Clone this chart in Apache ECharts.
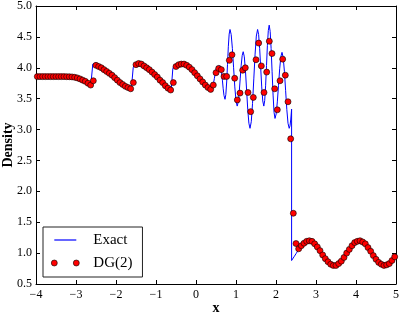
<!DOCTYPE html>
<html>
<head>
<meta charset="utf-8">
<script src="https://cdn.jsdelivr.net/npm/echarts@6/dist/echarts.min.js"></script>
<style>html,body{margin:0;padding:0;background:#fff}#c{width:399px;height:314px}</style>
</head>
<body>
<div id="c"></div>
<script>
// Tick labels
const xTicks = [-4, -3, -2, -1, 0, 1, 2, 3, 4, 5];
const yTicks = [0.5, 1.0, 1.5, 2.0, 2.5, 3.0, 3.5, 4.0, 4.5, 5.0];

// Exact (reference) solution
const exactX = [-4.00,-3.30,-3.15,-3.05,-2.95,-2.85,-2.75,-2.68,-2.63,-2.60,-2.58,-2.58,-2.56,-2.50,-2.40,-2.30,-2.20,-2.10,-2.00,-1.90,-1.80,-1.70,-1.62,-1.57,-1.57,-1.54,-1.48,-1.40,-1.30,-1.20,-1.10,-1.00,-0.90,-0.80,-0.70,-0.62,-0.58,-0.58,-0.55,-0.48,-0.40,-0.30,-0.20,-0.10,0.00,0.10,0.20,0.28,0.34,0.37,
  0.40,0.43,0.46,0.49,0.52,0.55,0.60,0.64,0.66,0.68,0.70,0.725,
  0.746,0.767,0.7875,0.808,0.829,0.85,
  0.88,0.91,0.94,0.97,1.00,1.03,
  1.055,1.08,1.105,1.13,1.155,1.18,
  1.208,1.237,1.265,1.293,1.322,1.35,
  1.382,1.413,1.445,1.477,1.508,1.54,
  1.566,1.592,1.6175,1.643,1.669,1.695,
  1.7175,1.74,1.7625,1.785,1.8075,1.83,
  1.854,1.878,1.9025,1.927,1.951,1.975,
  2.004,2.033,2.0625,2.092,2.121,2.15,
  2.18,2.21,2.24,2.27,2.30,2.33,
  2.35,2.37,2.39,2.39,
  2.45,2.50,2.55,2.60,2.65,2.70,2.75,2.80,2.85,2.90,2.95,3.00,3.05,3.10,3.15,3.20,3.25,3.30,3.35,3.40,3.45,3.50,3.55,3.60,3.65,3.70,3.75,3.80,3.85,3.90,3.95,4.00,4.05,4.10,4.15,4.20,4.25,4.30,4.35,4.40,4.45,4.50,4.55,4.60,4.65,4.70,4.75,4.80,4.85,4.90,4.95,5.00];
const exactY = [3.857,3.857,3.855,3.848,3.835,3.815,3.785,3.755,3.72,3.70,3.69,4.06,4.09,4.08,4.03,3.99,3.95,3.90,3.84,3.77,3.71,3.66,3.63,3.62,4.00,4.06,4.08,4.08,4.05,4.01,3.95,3.89,3.82,3.75,3.68,3.64,3.63,3.98,4.04,4.07,4.08,4.08,4.05,3.99,3.92,3.84,3.75,3.68,3.62,3.61,
  3.64,3.72,3.83,3.94,4.02,4.05,4.03,3.92,3.80,3.66,3.55,3.49,
  3.566,3.77,4.055,4.34,4.545,4.62,
  4.537,4.31,4.00,3.69,3.463,3.38,
  3.439,3.60,3.82,4.04,4.20,4.26,
  4.177,3.95,3.64,3.33,3.103,3.02,
  3.127,3.42,3.82,4.22,4.513,4.62,
  4.537,4.31,4.00,3.69,3.463,3.38,
  3.468,3.708,4.035,4.363,4.602,4.69,
  4.589,4.313,3.935,3.558,3.281,3.18,
  3.252,3.448,3.715,3.983,4.178,4.25,
  4.168,3.943,3.635,3.328,3.102,3.02,
  3.06,3.17,3.33,0.88,
  0.94,0.99,1.04,1.08,1.13,1.16,1.185,1.198,1.199,1.187,1.164,1.13,1.088,1.041,0.992,0.942,0.897,0.858,0.827,0.807,0.80,0.805,0.822,0.85,0.887,0.931,0.98,1.03,1.078,1.121,1.157,1.183,1.197,1.199,1.189,1.167,1.135,1.094,1.048,0.998,0.949,0.903,0.862,0.83,0.809,0.80,0.804,0.819,0.845,0.882,0.925,0.974];

// DG(2) cell values
const dgX = [-3.967,-3.900,-3.833,-3.767,-3.700,-3.633,-3.567,-3.500,-3.433,-3.367,-3.300,-3.233,-3.167,-3.100,-3.033,-2.967,-2.900,-2.833,-2.767,-2.700,-2.633,-2.567,-2.500,-2.433,-2.367,-2.300,-2.233,-2.167,-2.100,-2.033,-1.967,-1.900,-1.833,-1.767,-1.700,-1.633,-1.567,-1.500,-1.433,-1.367,-1.300,-1.233,-1.167,-1.100,-1.033,-0.967,-0.900,-0.833,-0.767,-0.700,-0.633,-0.567,-0.500,-0.433,-0.367,-0.300,-0.233,-0.167,-0.100,-0.033,0.033,0.100,0.167,0.233,0.300,0.367,0.433,0.500,0.567,0.633,0.700,0.767,0.833,0.900,0.967,1.033,1.100,1.167,1.233,1.300,1.367,1.433,1.500,1.567,1.633,1.700,1.767,1.833,1.900,1.967,2.033,2.100,2.167,2.233,2.300,2.367,2.433,2.500,2.567,2.633,2.700,2.767,2.833,2.900,2.967,3.033,3.100,3.167,3.233,3.300,3.367,3.433,3.500,3.567,3.633,3.700,3.767,3.833,3.900,3.967,4.033,4.100,4.167,4.233,4.300,4.367,4.433,4.500,4.567,4.633,4.700,4.767,4.833,4.900,4.967];
const dgY = [3.857,3.857,3.857,3.857,3.857,3.857,3.857,3.857,3.857,3.857,3.857,3.856,3.855,3.852,3.846,3.836,3.82,3.80,3.78,3.75,3.72,3.79,4.04,4.02,4.00,3.97,3.94,3.91,3.88,3.84,3.80,3.76,3.73,3.70,3.68,3.66,3.76,4.05,4.07,4.06,4.03,4.00,3.97,3.93,3.89,3.85,3.80,3.76,3.71,3.67,3.64,3.76,4.02,4.05,4.06,4.06,4.04,4.01,3.97,3.92,3.87,3.82,3.77,3.72,3.68,3.65,3.72,3.92,3.99,3.97,3.86,3.86,4.12,4.21,3.83,3.48,3.59,3.96,4.00,3.60,3.29,3.52,4.13,4.40,4.03,3.60,3.93,4.43,4.23,3.66,3.32,3.79,4.14,3.88,3.45,2.85,1.645,1.155,1.07,1.12,1.16,1.19,1.20,1.19,1.15,1.10,1.04,0.97,0.91,0.86,0.82,0.80,0.80,0.83,0.87,0.93,1.00,1.06,1.12,1.17,1.19,1.20,1.18,1.15,1.09,1.03,0.96,0.90,0.85,0.82,0.80,0.81,0.83,0.88,0.94];

const FONT = '"Liberation Serif", "DejaVu Serif", serif';
const exactData = exactX.map((x, i) => [x, exactY[i]]);
const dgData = dgX.map((x, i) => [x, dgY[i]]);
const minus = v => (v < 0 ? '\u2212' + Math.abs(v) : String(v));

const axisCommon = {
  type: 'value',
  axisLine: { show: true, onZero: false, lineStyle: { color: '#000', width: 1 } },
  axisTick: { show: true, inside: true, length: 4, lineStyle: { color: '#000', width: 1 } },
  splitLine: { show: false }
};

const chart = echarts.init(document.getElementById('c'), null, { renderer: 'canvas' });
chart.setOption({
  animation: false,
  backgroundColor: '#fff',
  grid: { left: 36, right: 3, top: 6, bottom: 30, containLabel: false, outerBoundsMode: 'none' },
  xAxis: [
    Object.assign({}, axisCommon, {
      min: xTicks[0], max: xTicks[xTicks.length - 1], interval: 1, position: 'bottom',
      axisLabel: { show: true, margin: 5, showMinLabel: true, showMaxLabel: true, color: '#000', fontFamily: FONT, fontSize: 12, formatter: minus },
      name: 'x', nameLocation: 'middle', nameGap: 17, nameMoveOverlap: false,
      nameTextStyle: { color: '#000', fontFamily: FONT, fontWeight: 'bold', fontSize: 14 }
    }),
    Object.assign({}, axisCommon, {
      min: xTicks[0], max: xTicks[xTicks.length - 1], interval: 1, position: 'top',
      axisLabel: { show: false }
    })
  ],
  yAxis: [
    Object.assign({}, axisCommon, {
      min: yTicks[0], max: yTicks[yTicks.length - 1], interval: 0.5, position: 'left',
      axisLabel: { show: true, margin: 4, showMinLabel: true, showMaxLabel: true, color: '#000', fontFamily: FONT, fontSize: 12, formatter: v => v.toFixed(1) },
      name: 'Density', nameLocation: 'middle', nameGap: 21, nameRotate: 90, nameMoveOverlap: false,
      nameTextStyle: { color: '#000', fontFamily: FONT, fontWeight: 'bold', fontSize: 14 }
    }),
    Object.assign({}, axisCommon, {
      min: yTicks[0], max: yTicks[yTicks.length - 1], interval: 0.5, position: 'right',
      axisLabel: { show: false }
    })
  ],
  legend: {
    show: true,
    orient: 'vertical',
    left: 43, top: 227,
    padding: [5, 10, 6, 8],
    itemGap: 7,
    itemWidth: 28, itemHeight: 6,
    borderColor: '#222', borderWidth: 1, borderRadius: 0,
    backgroundColor: '#fff',
    textStyle: { color: '#000', fontFamily: FONT, fontSize: 15, lineHeight: 16, padding: [0, 0, 0, 9] },
    data: [
      { name: 'Exact', icon: 'path://M0,0M28,6M3,2.4H25V3.6H3Z', itemStyle: { color: '#0000ff', borderWidth: 0 } },
      { name: 'DG(2)', icon: 'path://M0,0M28,6M0,3A3,3 0 1,1 6,3A3,3 0 1,1 0,3ZM22,3A3,3 0 1,1 28,3A3,3 0 1,1 22,3Z', itemStyle: { color: '#ff0000', borderColor: '#000', borderWidth: 0.6 } }
    ]
  },
  series: [
    {
      name: 'Exact', type: 'line', data: exactData, xAxisIndex: 0, yAxisIndex: 0,
      showSymbol: false, symbol: 'none', clip: true, z: 2,
      lineStyle: { color: '#0000ff', width: 1 }, itemStyle: { color: '#0000ff' }
    },
    {
      name: 'DG(2)', type: 'scatter', data: dgData, xAxisIndex: 0, yAxisIndex: 0,
      symbol: 'circle', symbolSize: 6, clip: true, z: 3,
      itemStyle: { color: '#ff0000', borderColor: '#000', borderWidth: 0.6, opacity: 1 }
    }
  ]
});
</script>
</body>
</html>
